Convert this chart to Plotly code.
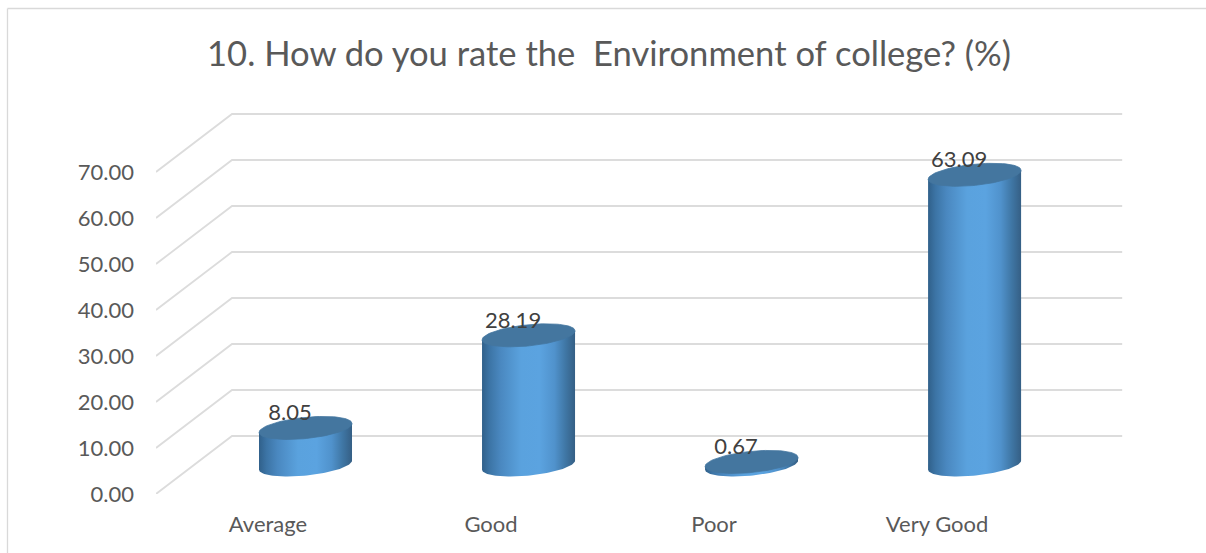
import numpy as np
import plotly.graph_objects as go

categories = ["Average", "Good", "Poor", "Very Good"]
values = [8.05, 28.19, 0.67, 63.09]
axis_ticks = [0, 10, 20, 30, 40, 50, 60, 70]
title_text = "10. How do you rate the \u00a0Environment of college? (%)"

FONT = "Lato, Carlito, 'Noto Sans', sans-serif"
PX_X = 223.0   # pixels per category
PX_Y = 4.6     # pixels per value unit
X_LOW = -0.5022
X_HIGH = 3.865
Y_HIGH = 95.0
DEPTH_X = 76 / PX_X
DEPTH_Y = 58 / PX_Y
GRID_END = 3.83
BAR_SHIFT = 37.5 / PX_X
BAR_BASE = 29 / PX_Y
RX = 46.5 / PX_X
RY = 10.6 / PX_Y
SKEW = 4.5 / PX_Y
GRADIENT = [
    [0.0, "#30608a"], [0.08, "#3c74a5"], [0.2, "#4a88c0"],
    [0.42, "#5aa2de"], [0.62, "#5ba3e0"], [0.78, "#5092cc"], [0.9, "#3f76a4"], [1.0, "#355f85"],
]

fig = go.Figure()

# back wall and side wall gridlines
for v in axis_ticks:
    fig.add_trace(go.Scatter(
        x=[X_LOW, X_LOW + DEPTH_X, GRID_END],
        y=[v, v + DEPTH_Y, v + DEPTH_Y],
        mode="lines", line=dict(color="#dcdcdc", width=1.8),
        hoverinfo="skip", showlegend=False, cliponaxis=False,
    ))

for i, v in enumerate(values):
    cx = i + BAR_SHIFT
    top = BAR_BASE + v
    # body: lower half of the base ellipse, closed across the top ellipse centre
    t = np.linspace(np.pi, 2 * np.pi, 60)
    bx = cx + RX * np.cos(t)
    by = BAR_BASE + RY * np.sin(t) + SKEW * np.cos(t)
    tx = [cx + RX, cx - RX]
    ty = [top + SKEW, top - SKEW]
    fig.add_trace(go.Scatter(
        x=list(bx) + tx, y=list(by) + ty,
        mode="lines", fill="toself", line=dict(width=0, color="rgba(0,0,0,0)"),
        fillgradient=dict(type="horizontal", colorscale=GRADIENT),
        hoverinfo="skip", showlegend=False, cliponaxis=False,
    ))
    # top cap
    t = np.linspace(0, 2 * np.pi, 90)
    fig.add_trace(go.Scatter(
        x=cx + RX * np.cos(t), y=top + RY * np.sin(t) + SKEW * np.cos(t),
        mode="lines", fill="toself", fillcolor="#44769f",
        line=dict(width=0.8, color="#44769f"),
        hoverinfo="skip", showlegend=False, cliponaxis=False,
    ))

# value labels
fig.add_trace(go.Scatter(
    x=[i + BAR_SHIFT - 15.5 / PX_X for i in range(len(values))],
    y=[BAR_BASE + v + 13 / PX_Y for v in values],
    mode="text", text=[f"{v:.2f}" for v in values],
    textposition="middle center",
    textfont=dict(family=FONT, size=22, color="#404040"),
    hoverinfo="skip", showlegend=False, cliponaxis=False,
))

fig.update_layout(
    width=1206, height=553, autosize=False,
    margin=dict(l=156, r=76, t=57, b=59, pad=0),
    paper_bgcolor="white", plot_bgcolor="rgba(0,0,0,0)",
    title=dict(
        text=title_text, x=609 / 1206, xanchor="center",
        y=1 - 54 / 553, yanchor="middle",
        font=dict(family=FONT, size=34.6, color="#595959"),
    ),
    xaxis=dict(
        range=[X_LOW, X_HIGH], tickvals=list(range(len(categories))), ticktext=categories,
        showgrid=False, zeroline=False, showline=False, ticks="",
        ticklabelstandoff=15, tickfont=dict(family=FONT, size=22, color="#595959"),
    ),
    yaxis=dict(
        range=[0, Y_HIGH], tickvals=axis_ticks, tickformat=".2f",
        showgrid=False, zeroline=False, showline=False, ticks="",
        ticklabelstandoff=21, tickfont=dict(family=FONT, size=22, color="#595959"),
    ),
    shapes=[
        dict(type="line", xref="paper", yref="paper",
             x0=(7.5 - 156) / 974, x1=(1206 - 156) / 974,
             y0=(494 - 8.5) / 437, y1=(494 - 8.5) / 437,
             line=dict(color="#d9d9d9", width=1.3)),
        dict(type="line", xref="paper", yref="paper",
             x0=(7.5 - 156) / 974, x1=(7.5 - 156) / 974,
             y0=(494 - 8.5) / 437, y1=(494 - 553) / 437,
             line=dict(color="#d9d9d9", width=1.3)),
    ],
)

fig.write_html("out.html", config={"displayModeBar": False},
               post_script="document.body.style.margin='0';document.body.style.overflow='hidden';")
